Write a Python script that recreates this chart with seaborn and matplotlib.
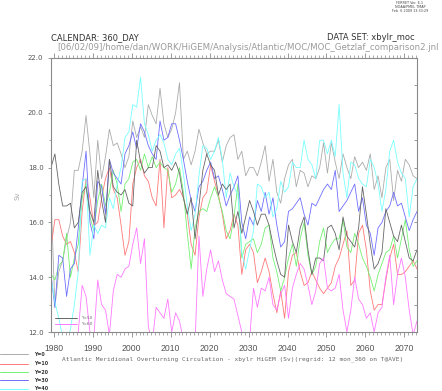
import numpy as np
import pandas as pd
import matplotlib
matplotlib.use("Agg")
import matplotlib.pyplot as plt
from matplotlib.lines import Line2D
from matplotlib.ticker import MultipleLocator
import seaborn as sns

# ── data (annual means, Sv) ──────────────────────────────────────────────────
years = 1979.25 + np.arange(95)

moc_y0 = [17.0, 12.9, 14.2, 14.6, 15.4, 16.0, 17.9, 17.9, 18.6, 19.9,
          18.5, 16.9, 19.0, 17.6, 18.4, 19.4, 18.8, 18.9, 18.5, 18.0,
          18.4, 19.7, 19.1, 19.5, 19.1, 20.3, 19.9, 19.6, 20.9, 19.6,
          19.1, 19.4, 20.0, 21.1, 18.3, 18.6, 18.1, 18.6, 19.4, 18.9,
          18.5, 18.6, 18.6, 19.0, 18.2, 18.8, 19.1, 19.2, 18.3, 18.6,
          17.7, 18.0, 18.0, 17.7, 18.2, 18.8, 17.5, 18.3, 17.1, 16.7,
          17.6, 18.1, 18.3, 17.3, 17.9, 17.8, 17.3, 17.7, 17.6, 18.0,
          18.9, 17.8, 18.9, 18.2, 17.6, 18.5, 18.0, 17.6, 18.4, 18.0,
          18.2, 17.9, 18.5, 17.2, 17.7, 16.9, 18.0, 18.3, 16.8, 17.9,
          17.5, 18.3, 18.1, 17.7, 17.6]
moc_y10 = [15.1, 16.1, 16.1, 15.5, 15.2, 15.3, 14.9, 14.2, 16.4, 17.6,
           16.9, 15.9, 16.0, 16.9, 17.6, 18.0, 17.2, 16.9, 15.9, 14.8,
           15.3, 17.4, 18.0, 18.3, 17.7, 17.5, 16.9, 16.6, 18.3, 15.8,
           18.0, 16.9, 17.0, 17.2, 16.9, 16.3, 15.2, 14.8, 16.2, 16.9,
           17.1, 18.1, 17.5, 17.0, 16.3, 15.4, 15.7, 16.3, 15.9, 14.1,
           15.0, 15.2, 14.9, 13.8, 14.2, 14.7, 14.2, 13.4, 12.7, 13.5,
           12.5, 14.2, 14.8, 14.9, 14.2, 13.7, 13.8, 14.2, 13.9, 13.6,
           13.4, 13.6, 13.8, 14.4, 14.7, 15.2, 15.7, 13.7, 13.9, 15.6,
           15.9, 15.0, 13.5, 12.8, 13.0, 13.0, 13.9, 14.7, 15.2, 14.1,
           14.1, 14.2, 14.4, 14.6, 14.3]
moc_y20 = [14.1, 13.9, 14.4, 14.6, 15.6, 14.0, 14.7, 15.2, 16.9, 17.4,
           16.2, 15.7, 16.8, 17.4, 16.6, 17.1, 17.9, 17.4, 16.4, 17.4,
           17.6, 18.2, 18.3, 17.9, 18.5, 18.0, 18.4, 18.0, 18.2, 18.0,
           17.9, 17.1, 17.4, 18.0, 17.1, 15.6, 14.3, 15.8, 16.4, 16.5,
           16.4, 16.9, 17.3, 16.9, 16.4, 15.7, 15.4, 16.2, 17.4, 14.7,
           15.2, 15.3, 15.4, 14.9, 15.2, 15.8, 15.9, 14.7, 14.2, 13.5,
           14.0, 14.7, 15.2, 14.4, 15.4, 16.0, 14.8, 14.1, 14.4, 15.3,
           15.8, 14.9, 15.2, 15.4, 15.4, 16.1, 15.1, 14.9, 15.6, 15.2,
           14.7, 14.4, 14.0, 13.5, 14.1, 14.5, 14.9, 15.0, 15.5, 14.7,
           15.4, 16.1, 15.0, 14.4, 14.6]
moc_y30 = [14.1, 12.9, 14.8, 14.7, 13.3, 14.3, 14.5, 15.8, 17.3, 18.6,
           16.0, 15.4, 17.5, 17.3, 16.3, 18.3, 17.8, 17.6, 17.4, 18.5,
           18.8, 19.3, 18.7, 19.6, 19.3, 18.8, 18.5, 18.3, 19.7, 19.0,
           19.1, 19.6, 19.6, 19.0, 18.3, 17.5, 16.8, 16.4, 17.3, 17.5,
           17.9, 18.2, 17.6, 17.7, 17.2, 16.6, 17.0, 17.3, 17.7, 16.0,
           15.4, 16.2, 15.9, 16.8, 16.4, 17.1, 16.3, 16.9, 15.9, 15.1,
           15.3, 16.4, 16.5, 16.7, 16.9, 16.3, 15.9, 16.7, 16.6, 16.9,
           17.2, 17.4, 17.2, 17.9, 16.4, 16.6, 16.8, 17.1, 17.4, 16.4,
           16.9, 15.9, 15.6, 14.8, 15.8, 16.0, 16.4, 16.6, 17.1, 16.6,
           16.7, 16.2, 15.7, 16.1, 16.4]
moc_y40 = [14.0, 13.1, 12.5, 11.8, 11.6, 12.1, 13.0, 14.2, 17.5, 17.6,
           14.8, 15.9, 15.6, 15.9, 15.8, 16.9, 16.5, 17.4, 18.0, 19.1,
           19.3, 20.3, 20.2, 21.3, 19.6, 19.2, 18.6, 19.0, 19.2, 18.9,
           18.3, 18.1, 18.5, 18.7, 17.8, 16.6, 15.7, 16.3, 17.7, 18.8,
           18.7, 18.3, 18.6, 19.1, 18.3, 16.9, 17.8, 17.3, 17.0, 14.9,
           14.3, 15.0, 15.7, 17.4, 17.3, 16.9, 17.1, 16.2, 16.5, 17.5,
           17.1, 17.3, 18.2, 18.0, 18.0, 19.0, 18.3, 18.1, 17.6, 19.0,
           19.0, 18.5, 19.0, 18.4, 20.3, 17.8, 16.9, 18.2, 18.1, 17.6,
           17.4, 17.3, 18.3, 18.0, 17.4, 16.4, 17.2, 18.6, 19.0, 18.2,
           17.8, 17.6, 16.2, 17.3, 17.6]
moc_y50 = [18.0, 18.5, 17.4, 16.6, 16.6, 16.7, 15.8, 16.0, 17.1, 17.3,
           16.4, 16.0, 17.9, 16.8, 16.0, 18.3, 17.3, 17.1, 17.0, 17.2,
           16.7, 16.6, 19.0, 18.2, 17.8, 18.0, 18.0, 18.8, 18.6, 18.0,
           18.1, 17.9, 18.2, 17.8, 16.9, 16.3, 16.9, 15.4, 16.6, 17.9,
           18.5, 18.1, 17.9, 17.0, 17.4, 17.2, 17.4, 15.8, 16.4, 15.6,
           16.2, 16.8, 16.4, 15.9, 16.3, 16.3, 15.9, 15.2, 14.6, 14.1,
           14.0, 15.9, 15.3, 14.9, 15.8, 16.2, 15.0, 14.1, 14.7, 14.7,
           14.6, 15.8, 15.9, 15.6, 15.0, 16.2, 15.5, 15.3, 15.1, 15.8,
           17.3, 16.3, 15.2, 14.3, 14.5, 14.9, 16.5, 16.0, 15.5, 15.3,
           15.9, 15.3, 14.7, 14.6, 15.0]
moc_y60 = [11.2, 10.9, 11.5, 11.0, 11.3, 10.8, 11.4, 12.0, 13.7, 13.3,
           12.0, 11.8, 13.9, 13.0, 12.8, 11.9, 13.5, 14.1, 14.0, 14.3,
           14.4, 15.2, 15.8, 14.5, 15.4, 12.2, 11.6, 12.9, 12.7, 12.5,
           13.2, 12.0, 12.7, 12.4, 11.7, 11.5, 11.8, 11.6, 15.5, 13.3,
           14.3, 15.0, 14.2, 14.6, 13.9, 13.4, 13.3, 13.2, 12.6, 12.0,
           11.6, 11.7, 13.6, 12.9, 13.6, 13.5, 14.0, 13.0, 12.8, 13.4,
           13.7, 12.5, 13.6, 14.1, 14.5, 14.3, 13.7, 13.0, 13.5, 14.5,
           14.7, 13.6, 13.5, 13.6, 14.1, 12.8, 12.0, 12.8, 14.0, 13.2,
           13.0, 12.5, 12.7, 12.0, 12.7, 12.9, 14.0, 14.8, 13.0, 14.1,
           14.7, 14.0, 12.8, 11.9, 12.4]

series_names = ["Y=0", "Y=10", "Y=20", "Y=30", "Y=40", "Y=50", "Y=60"]
series_vals = [moc_y0, moc_y10, moc_y20, moc_y30, moc_y40, moc_y50, moc_y60]
x_ticks = [1980, 1990, 2000, 2010, 2020, 2030, 2040, 2050, 2060, 2070]

# ── style ────────────────────────────────────────────────────────────────────
COLORS = {
    "Y=0":  "#ababab",
    "Y=10": "#ff7878",
    "Y=20": "#72f072",
    "Y=30": "#6e6eff",
    "Y=40": "#78ffff",
    "Y=50": "#666666",
    "Y=60": "#ff78ff",
}
FRAME = "#8a8a8a"
W, H = 442, 391

sns.set_style("white")
plt.rcParams["font.family"] = ["DejaVu Sans"]

df = pd.concat(
    [pd.DataFrame({"year": years, "sv": vals, "series": name})
     for name, vals in zip(series_names, series_vals)],
    ignore_index=True,
)

fig = plt.figure(figsize=(W / 100, H / 100), dpi=100)
fig.patch.set_facecolor("white")
ax = fig.add_axes([51 / W, 1 - 332 / H, 366 / W, 274 / H])

sns.lineplot(data=df, x="year", y="sv", hue="series", hue_order=series_names,
             palette=COLORS, estimator=None, sort=False, legend=False,
             lw=0.6, ax=ax)

ax.set_xlim(years[0], years[-1])
ax.set_ylim(12, 22)
ax.set_xlabel("")
ax.set_ylabel("")

for sp in ax.spines.values():
    sp.set_color(FRAME)
    sp.set_linewidth(0.8)

# x ticks: outward, on bottom and top
ax.set_xticks(x_ticks)
ax.xaxis.set_minor_locator(MultipleLocator(1))
ax.tick_params(axis="x", which="major", direction="out", length=3.6, width=0.6,
               color=FRAME, top=True, bottom=True, labelsize=6.2,
               labelcolor="#555555", pad=5)
ax.tick_params(axis="x", which="minor", direction="out", length=2.2, width=0.5,
               color=FRAME, top=True, bottom=True)
for lab in ax.get_xticklabels():
    lab.set_family(["Liberation Sans Narrow", "Liberation Sans"])

# y ticks: outward on the left, every 1 Sv inward on the right
ax.yaxis.set_major_locator(MultipleLocator(2))
ax.yaxis.set_minor_locator(MultipleLocator(1))
ax.yaxis.set_major_formatter(matplotlib.ticker.FormatStrFormatter("%.1f"))
ax.tick_params(axis="y", which="major", direction="out", length=2.4, width=0.6,
               color=FRAME, labelsize=5, labelcolor="#555555", pad=3)
ax.tick_params(axis="y", which="minor", direction="out", length=1.6, width=0.5,
               color=FRAME)
ax2 = ax.twinx()
ax2.set_ylim(12, 22)
ax2.yaxis.set_major_locator(MultipleLocator(1))
ax2.tick_params(axis="y", direction="in", length=2.4, width=0.6, color=FRAME,
                labelright=False)
for sp in ax2.spines.values():
    sp.set_visible(False)

# ── texts ────────────────────────────────────────────────────────────────────
def fx(px):
    return px / W

def fy(py):
    return 1 - py / H

for i, line in enumerate(["FERRET Ver. 6.1", "NOAA/PMEL TMAP", "Feb  6 2009 13:33:29"]):
    fig.text(fx(410), fy(2.5 + 4 * i), line, fontsize=2.4, color="#444444",
             ha="center", va="center")

fig.text(fx(51), fy(40), "CALENDAR: 360_DAY", fontsize=6, color="#333333",
         ha="left", va="baseline")
fig.text(fx(415), fy(40), "DATA SET: xbylr_moc", fontsize=6, color="#333333",
         ha="right", va="baseline")
fig.text(fx(57), fy(49.5),
         "[06/02/09]/home/dan/WORK/HiGEM/Analysis/Atlantic/MOC/MOC_Getzlaf_comparison2.jnl",
         fontsize=6.2, color="#9a9a9a", ha="left", va="baseline")
fig.text(fx(18), fy(196), "Sv", fontsize=5, color="#aaaaaa", rotation=90,
         ha="center", va="center")
fig.text(fx(233), fy(359),
         "Atlantic Meridional Overturning Circulation - xbylr HiGEM (Sv)(regrid: 12 mon_360 on T@AVE)",
         fontsize=4.4, family="DejaVu Sans Mono", color="#666666",
         ha="center", va="center")

# legend below the plot (Y=0 .. Y=40)
for name, py in zip(series_names[:5], [354, 363.5, 372, 380.3, 388.7]):
    fig.add_artist(Line2D([fx(0), fx(28)], [fy(py), fy(py)],
                          color=COLORS[name], lw=0.7))
    fig.text(fx(34), fy(py), name, fontsize=3.4, fontweight="bold",
             color="#333333", ha="left", va="center")

# legend inside the plot (Y=50, Y=60)
for name, py in zip(series_names[5:], [317.7, 324.3]):
    fig.add_artist(Line2D([fx(55), fx(77)], [fy(py), fy(py)],
                          color=COLORS[name], lw=0.7))
    fig.text(fx(81), fy(py), name, fontsize=3.0, color="#666666",
             ha="left", va="center")

fig.savefig("out.png", dpi=100, facecolor="white")
